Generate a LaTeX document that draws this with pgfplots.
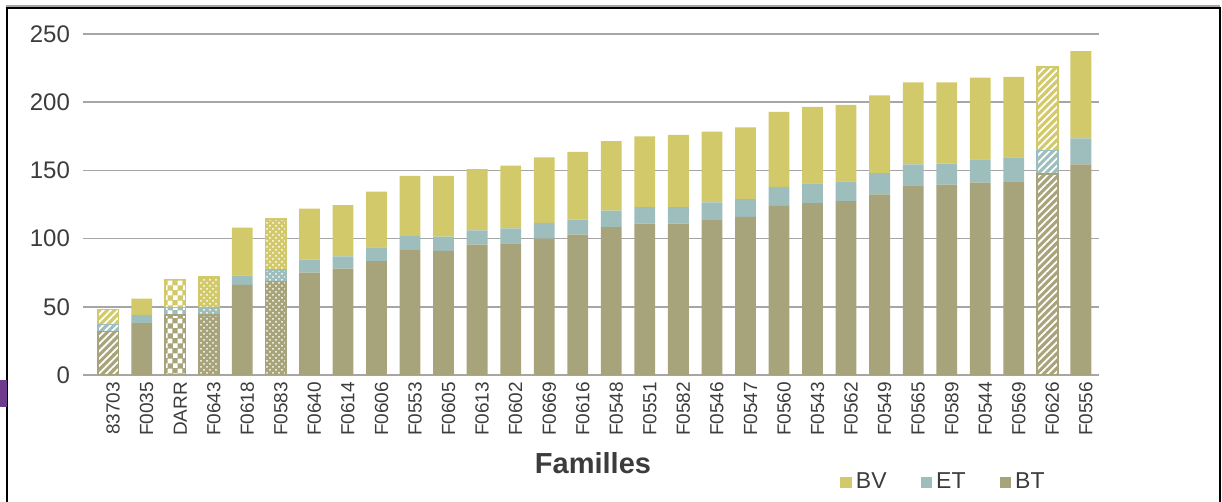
\documentclass[border=0pt]{standalone}
\usepackage{fontspec}
\setmainfont{Liberation Sans}
\usepackage{pgfplots}
\pgfplotsset{compat=1.18}
\usetikzlibrary{patterns,patterns.meta}

\definecolor{bv}{HTML}{D2CA6A}
\definecolor{et}{HTML}{9DBEBC}
\definecolor{bt}{HTML}{A7A37A}
\definecolor{gridc}{HTML}{A6A6A6}
\definecolor{txt}{HTML}{3C3C3C}
\definecolor{tab}{HTML}{6E3A8C}

% small checkerboard (squares of 2.4pt)
\pgfdeclarepatternformonly{smallchecker}{\pgfpointorigin}{\pgfqpoint{4.8pt}{4.8pt}}{\pgfqpoint{4.8pt}{4.8pt}}{
  \pgfpathrectangle{\pgfpointorigin}{\pgfqpoint{2.4pt}{2.4pt}}
  \pgfpathrectangle{\pgfqpoint{2.4pt}{2.4pt}}{\pgfqpoint{2.4pt}{2.4pt}}
  \pgfusepath{fill}}

\pgfplotsset{
  famaxis/.style={
    at={(41.5pt,-187.5pt)}, anchor=south west,
    scale only axis, width=508pt, height=170.5pt,
    xmin=-0.75, xmax=29.54, ymin=0, ymax=250,
    ybar stacked, bar width=0.62,
  },
  sqleg/.style={legend image code/.code={\fill[##1] (0pt,-2.8pt) rectangle (5.8pt,2.8pt);}},
  diag/.style={postaction={pattern={Lines[angle=45,distance=2.6pt,line width=0.9pt]},pattern color=white}},
  checker/.style={postaction={pattern=smallchecker,pattern color=white}},
  dotty/.style={postaction={pattern=crosshatch dots,pattern color=white}},
}

\begin{document}
\begin{tikzpicture}
\useasboundingbox (0,0) rectangle (611pt,-251pt);
% frame of the original slide
\draw[gridc,line width=0.6pt] (3pt,-3pt) -- (610pt,-3pt);
\draw[black,line width=1pt] (3.5pt,-260pt) -- (3.5pt,-4.2pt) -- (610pt,-4.2pt) -- (610pt,-260pt);
\fill[tab] (0pt,-190pt) rectangle (3.5pt,-203.5pt);

\begin{axis}[famaxis,
  ymajorgrids, grid style={gridc,line width=0.8pt},
  axis line style={draw=none}, major tick length=0pt,
  ytick={0,50,...,250},
  xtick={0,...,29},
  xticklabels={83703,F0035,DARR,F0643,F0618,F0583,F0640,F0614,F0606,F0553,
    F0605,F0613,F0602,F0669,F0616,F0548,F0551,F0582,F0546,F0547,
    F0560,F0543,F0562,F0549,F0565,F0589,F0544,F0569,F0626,F0556},
  x tick label style={rotate=90,anchor=east,yshift=-2.5pt,
    font=\fontsize{9.5}{10}\selectfont,text=txt},
  y tick label style={xshift=-3pt,font=\fontsize{12}{14}\selectfont,text=txt},
  /pgf/number format/assume math mode=true,
  legend style={at={(0.745,-0.315)},anchor=west,draw=none,fill=none,
    inner sep=0pt,legend columns=3,font=\fontsize{11.5}{13}\selectfont,text=txt,
    /tikz/every even column/.append style={column sep=15pt}},
  reverse legend,
]
\addplot[fill=bt,draw=none,sqleg] coordinates {
(0,32) (1,38) (2,44) (3,44) (4,66) (5,68.5) (6,75) (7,78) (8,83.5) (9,91.5)
(10,91) (11,95.5) (12,96.5) (13,100) (14,103) (15,108.5) (16,111) (17,111) (18,113.5) (19,116)
(20,124) (21,126) (22,127.5) (23,132.5) (24,139) (25,139.5) (26,141) (27,142) (28,147.5) (29,154.5)};
\addlegendentry{BT}
\addplot[fill=et,draw=none,sqleg] coordinates {
(0,5) (1,6) (2,5.5) (3,5) (4,7) (5,8.5) (6,9.5) (7,9) (8,10) (9,10.5)
(10,10.5) (11,10.5) (12,11) (13,11.5) (14,11) (15,12) (16,12) (17,12) (18,13) (19,13)
(20,14) (21,14.5) (22,14.5) (23,15.5) (24,15.5) (25,15.5) (26,17) (27,17.5) (28,17) (29,19)};
\addlegendentry{ET}
\addplot[fill=bv,draw=none,sqleg] coordinates {
(0,11) (1,12) (2,20.5) (3,23) (4,35) (5,37.5) (6,37.5) (7,37.5) (8,41) (9,44)
(10,44.5) (11,45) (12,46) (13,48) (14,49.5) (15,51) (16,52) (17,53) (18,52) (19,52.5)
(20,55) (21,56) (22,56) (23,57) (24,60) (25,59.5) (26,60) (27,59) (28,61.5) (29,64)};
\addlegendentry{BV}
\end{axis}

% hatched bars: diagonal lines
\begin{axis}[famaxis,hide axis]
\addplot[fill=bt,draw=bt,line width=0.8pt,diag] coordinates {(0,32) (28,147.5)};
\addplot[fill=et,draw=et,line width=0.8pt,diag] coordinates {(0,5) (28,17)};
\addplot[fill=bv,draw=bv,line width=0.8pt,diag] coordinates {(0,11) (28,61.5)};
\end{axis}

% hatched bars: checkerboard
\begin{axis}[famaxis,hide axis]
\addplot[fill=bt,draw=bt,line width=0.8pt,checker] coordinates {(2,44)};
\addplot[fill=et,draw=et,line width=0.8pt,checker] coordinates {(2,5.5)};
\addplot[fill=bv,draw=bv,line width=0.8pt,checker] coordinates {(2,20.5)};
\end{axis}

% hatched bars: dotted grid
\begin{axis}[famaxis,hide axis]
\addplot[fill=bt,draw=bt,line width=0.8pt,dotty] coordinates {(3,44) (5,68.5)};
\addplot[fill=et,draw=et,line width=0.8pt,dotty] coordinates {(3,5) (5,8.5)};
\addplot[fill=bv,draw=bv,line width=0.8pt,dotty] coordinates {(3,23) (5,37.5)};
\end{axis}

\node[font=\fontsize{14.5}{16}\selectfont\bfseries,text=txt] at (296.5pt,-231.5pt) {Familles};
\end{tikzpicture}
\end{document}
